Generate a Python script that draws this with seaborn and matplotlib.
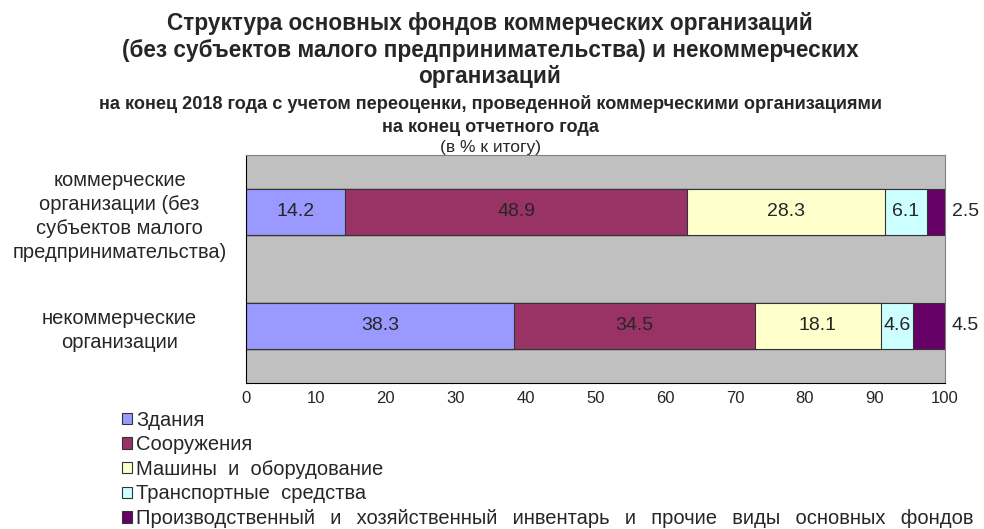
import numpy as np
import pandas as pd
import matplotlib
matplotlib.use('Agg')
import matplotlib.pyplot as plt
from matplotlib.patches import Patch
import seaborn as sns

# ---- data ----
categories = ['коммерческие\nорганизации (без\nсубъектов малого\nпредпринимательства)',
              'некоммерческие\nорганизации']
gap = '  \u2009'
components = ['Здания', 'Сооружения', 'Машины  и  оборудование',
              'Транспортные  средства',
              gap.join(['Производственный', 'и', 'хозяйственный', 'инвентарь',
                        'и', 'прочие', 'виды', 'основных', 'фондов'])]
zdaniya = [14.2, 38.3]
sooruzheniya = [48.9, 34.5]
mashiny = [28.3, 18.1]
transport = [6.1, 4.6]
prochie = [2.5, 4.5]
colors = ['#9999FF', '#993366', '#FFFFCC', '#CCFFFF', '#660066']

sns.set_style('white')
plt.rcParams['font.family'] = ['Liberation Sans', 'DejaVu Sans']

series = [zdaniya, sooruzheniya, mashiny, transport, prochie]
cum = np.cumsum(np.array(series), axis=0)

fig = plt.figure(figsize=(9.84, 5.29), dpi=100)
ax = fig.add_axes([0.25, 0.276, 0.71, 0.431])
ax.set_facecolor('#C0C0C0')

# stacked bars: draw cumulative totals from the outermost segment inwards
for i in range(len(series) - 1, -1, -1):
    df = pd.DataFrame({'cat': categories, 'val': cum[i]})
    sns.barplot(data=df, x='val', y='cat', orient='h', color=colors[i],
                width=0.4, edgecolor='#333333', linewidth=0.8,
                saturation=1, ax=ax)

# segment labels
for i, vals in enumerate(series):
    for j, v in enumerate(vals):
        if i == len(series) - 1:
            ax.text(101.0, j, f'{v}', ha='left', va='center', fontsize=14,
                    clip_on=False)
        else:
            ax.text(cum[i][j] - v / 2, j, f'{v}', ha='center', va='center',
                    fontsize=14)

ax.set_xlim(0, 100)
ax.set_ylim(1.5, -0.5)
ax.set_xticks(np.arange(0, 101, 10))
ax.tick_params(axis='x', direction='out', length=4, labelsize=12, pad=2)
ax.set_xlabel('')
ax.set_ylabel('')
ax.set_yticks([0, 1])
ax.set_yticklabels(categories, fontsize=14.5, ha='center', linespacing=1.33)
ax.tick_params(axis='y', length=0, pad=91)
ax.set_yticks([-0.5, 0.5, 1.5], minor=True)
ax.tick_params(axis='y', which='minor', direction='out', length=4)
for s in ['top', 'right']:
    ax.spines[s].set_color('#808080')
for s in ['left', 'bottom']:
    ax.spines[s].set_color('black')

# titles
fig.text(0.498, 0.977, 'Структура основных фондов коммерческих организаций\n'
         '(без субъектов малого предпринимательства) и некоммерческих\n'
         'организаций', ha='center', va='top', fontsize=16.3, fontweight='bold',
         linespacing=1.2)
fig.text(0.498, 0.820, 'на конец 2018 года с учетом переоценки, проведенной коммерческими организациями\n'
         'на конец отчетного года', ha='center', va='top', fontsize=13.1,
         fontweight='bold', linespacing=1.42)
fig.text(0.498, 0.735, '(в % к итогу)', ha='center', va='top', fontsize=12.5)

handles = [Patch(facecolor=c, edgecolor='#333333', linewidth=0.8) for c in colors]
fig.legend(handles, components, loc='upper left', bbox_to_anchor=(0.124, 0.224),
           frameon=False, fontsize=14.5, handlelength=0.5, handleheight=0.5,
           handletextpad=0.2, labelspacing=0.28, borderpad=0, borderaxespad=0)

plt.savefig('out.png', dpi=100)
